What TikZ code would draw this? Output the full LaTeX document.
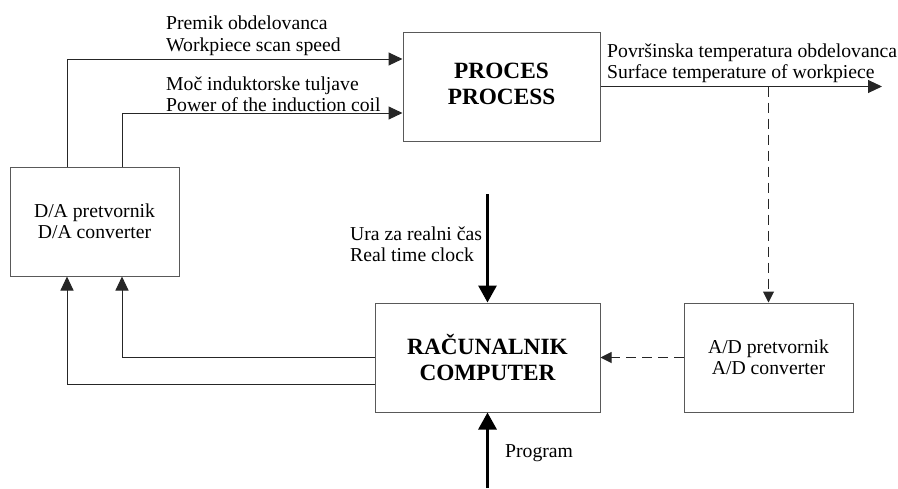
\documentclass[tikz,border=0pt]{standalone}
\usepackage{fontspec}
\setmainfont{Liberation Serif}
\usetikzlibrary{arrows.meta}
\begin{document}
\begin{tikzpicture}[x=1pt,y=-1pt,
  box/.style={draw=black!65,line width=1pt,minimum width=#1,minimum height=109pt,inner sep=0pt,align=center,font=\fontsize{19.7}{21.5}\selectfont},
  bigtxt/.style={font=\bfseries\fontsize{23.3}{26}\selectfont},
  lbl/.style={inner sep=0pt,align=left,anchor=west,font=\fontsize{19.7}{21.5}\selectfont},
  arr/.style={draw=black!85,line width=1pt,-{Triangle[length=14pt,width=13pt]}},
  thickarr/.style={draw=black,line width=3pt,-{Triangle[length=17pt,width=18pt]}},
  dsh/.style={draw=black!85,line width=1pt,dash pattern=on 10pt off 6pt,-{Triangle[length=11pt,width=11pt]}}
]
\useasboundingbox (0,0) rectangle (898,488);
% boxes
\node[box=197,bigtxt] (proc) at (501.5,86.5) {\raisebox{3pt}{\begin{tabular}{@{}c@{}}PROCES\\PROCESS\end{tabular}}};
\node[box=169] (da) at (94.5,221.5) {D/A pretvornik\\D/A converter};
\node[box=225,bigtxt] (comp) at (487.5,357.5) {RAČUNALNIK\\COMPUTER};
\node[box=169] (ad) at (768.5,357.5) {A/D pretvornik\\A/D converter};
% helper coordinates
\coordinate (a1) at (67,59);
\coordinate (a2) at (122,113);
\coordinate (low) at (0,384);
\coordinate (out) at (882,86.5);
\coordinate (clk) at (487.5,194);
\coordinate (prg) at (487.5,488);
% connectors
\draw[arr] (da.north -| a1) |- (a1 -| proc.west);
\draw[arr] (da.north -| a2) |- (a2 -| proc.west);
\draw[arr] (proc.east) -- (out);
\draw[dsh] (ad.north |- proc.east) -- (ad.north);
\draw[dsh] (ad.west) -- (comp.east);
\draw[arr] (comp.west) -| (da.south -| a2);
\draw[arr] (comp.west |- low) -| (da.south -| a1);
\draw[thickarr] (clk) -- (comp.north);
\draw[thickarr] (prg) -- (comp.south);
% labels
\node[lbl] (l1) at (166,36) {Premik obdelovanca\\Workpiece scan speed};
\node[lbl] (l2) at (166,94) {Moč induktorske tuljave\\Power of the induction coil};
\node[lbl] (l3) at (607,63) {Površinska temperatura obdelovanca\\Surface temperature of workpiece};
\node[lbl] (l4) at (350,244) {Ura za realni čas\\Real time clock};
\node[lbl] (l5) at (505,453) {Program};
\end{tikzpicture}
\end{document}
